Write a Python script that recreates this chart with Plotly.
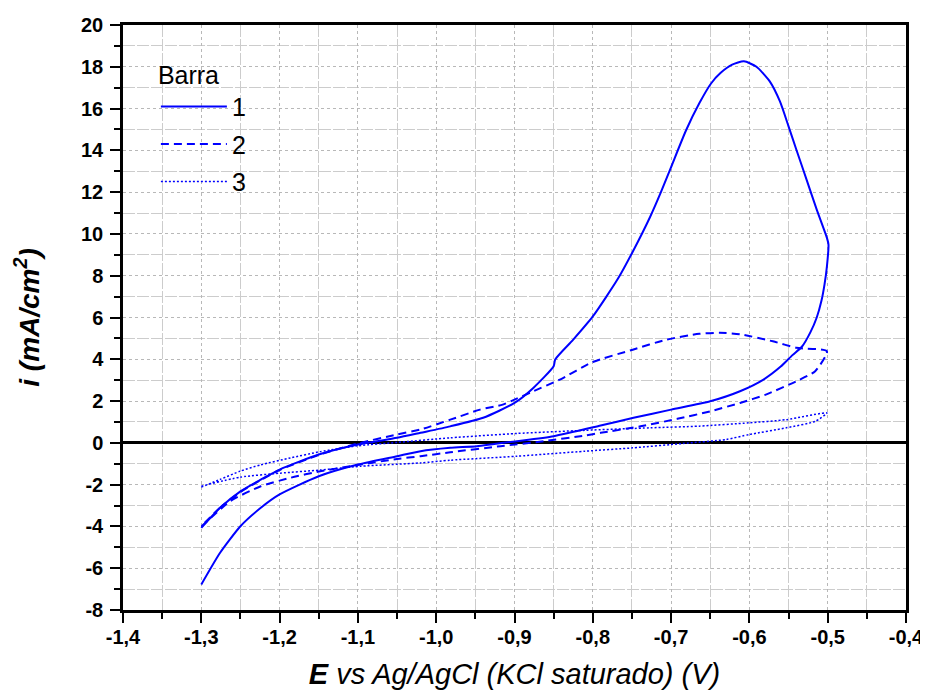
import plotly.graph_objects as go

# ---- data ----
# Barra 1 : forward (anodic) branch then return branch
e1 = [-1.30, -1.276, -1.25, -1.224, -1.20, -1.15, -1.10, -1.05, -1.02, -0.982, -0.94, -0.90,
      -0.876, -0.85, -0.848, -0.825, -0.80, -0.768, -0.749, -0.727, -0.713, -0.70, -0.681,
      -0.664, -0.649, -0.637, -0.622, -0.607, -0.591, -0.574, -0.561, -0.55, -0.54, -0.527,
      -0.514, -0.501, -0.499,
      -0.501, -0.504, -0.508, -0.514, -0.522, -0.533, -0.545, -0.56, -0.582, -0.612, -0.65,
      -0.70, -0.748, -0.79, -0.85, -0.897, -0.948, -0.982, -1.02, -1.05, -1.10, -1.15, -1.20,
      -1.224, -1.25, -1.276, -1.30]
i1 = [-4.07, -3.11, -2.32, -1.76, -1.28, -0.56, -0.08, 0.24, 0.48, 0.79, 1.20, 1.91,
      2.63, 3.67, 3.99, 4.94, 6.05, 7.85, 9.15, 10.8, 12.0, 13.2, 14.95,
      16.25, 17.2, 17.7, 18.1, 18.26, 18.0, 17.3, 16.34, 15.15, 14.03, 12.6,
      11.16, 9.81, 9.49,
      8.45, 7.6, 6.8, 6.0, 5.3, 4.6, 4.2, 3.65, 3.03, 2.47, 1.99,
      1.59, 1.20, 0.83, 0.32, 0.08, -0.16, -0.24, -0.40, -0.64, -1.04, -1.60, -2.47,
      -3.11, -3.99, -5.26, -6.78]

# Barra 2
e2 = [-1.30, -1.276, -1.25, -1.224, -1.20, -1.15, -1.10, -1.05, -1.02, -0.982, -0.944, -0.915,
      -0.90, -0.876, -0.842, -0.80, -0.749, -0.706, -0.664, -0.638, -0.612, -0.57, -0.54, -0.501,
      -0.516, -0.54, -0.579, -0.612, -0.65, -0.692, -0.739, -0.79, -0.81, -0.863, -0.918,
      -0.982, -1.02, -1.05, -1.097, -1.148, -1.186, -1.224, -1.263, -1.30]
i2 = [-4.0, -3.1, -2.35, -1.78, -1.30, -0.58, -0.03, 0.40, 0.64, 1.11, 1.59, 1.83,
      2.07, 2.47, 3.03, 3.87, 4.46, 4.94, 5.22, 5.27, 5.20, 4.86, 4.55, 4.38,
      3.43, 2.95, 2.31, 1.91, 1.51, 1.15, 0.79, 0.48, 0.35, 0.08, -0.16,
      -0.45, -0.64, -0.77, -1.04, -1.36, -1.67, -2.08, -2.79, -4.0]

# Barra 3
e3 = [-1.30, -1.276, -1.25, -1.224, -1.186, -1.148, -1.10, -1.05, -0.982, -0.897, -0.81,
      -0.726, -0.664, -0.60, -0.553, -0.501,
      -0.516, -0.553, -0.60, -0.63, -0.685, -0.749, -0.81, -0.897, -0.982, -1.02, -1.097,
      -1.148, -1.199, -1.25, -1.30]
i3 = [-2.12, -1.75, -1.35, -1.05, -0.72, -0.42, -0.14, 0.02, 0.24, 0.45, 0.60,
      0.72, 0.80, 0.96, 1.11, 1.43,
      1.03, 0.72, 0.40, 0.16, -0.03, -0.24, -0.40, -0.64, -0.83, -0.96, -1.12,
      -1.30, -1.45, -1.64, -2.07]

series_names = ["1", "2", "3"]

x_ticks = [-1.4, -1.3, -1.2, -1.1, -1.0, -0.9, -0.8, -0.7, -0.6, -0.5, -0.4]
x_tick_labels = ["-1,4", "-1,3", "-1,2", "-1,1", "-1,0", "-0,9", "-0,8", "-0,7", "-0,6", "-0,5", "-0,4"]
y_ticks = [-8, -6, -4, -2, 0, 2, 4, 6, 8, 10, 12, 14, 16, 18, 20]
y_tick_labels = ["-8", "-6", "-4", "-2", "0", "2", "4", "6", "8", "10", "12", "14", "16", "18", "20"]

# ---- figure ----
FONT = "Liberation Sans, Arial, sans-serif"
BLUE = "#0000ff"

fig = go.Figure()
fig.add_trace(go.Scatter(x=e1, y=i1, mode="lines", name=series_names[0],
                         line=dict(color=BLUE, width=2, dash="solid", shape="spline", smoothing=0.6),
                         legendgroup="a"))
fig.add_trace(go.Scatter(x=e2, y=i2, mode="lines", name=series_names[1],
                         line=dict(color=BLUE, width=2, dash="8px,5px", shape="spline", smoothing=0.6),
                         legendgroup="b"))
fig.add_trace(go.Scatter(x=e3, y=i3, mode="lines", name=series_names[2],
                         line=dict(color=BLUE, width=1.5, dash="2px,2px", shape="spline", smoothing=0.6),
                         legendgroup="c"))

axis_common = dict(
    automargin=False,
    showline=True, linecolor="black", linewidth=2.5, mirror=True,
    ticks="outside", ticklen=10, tickwidth=2, tickcolor="black",
    tickfont=dict(family=FONT, size=20, color="black", weight="bold"),
    ticklabeloverflow="allow",
    showgrid=True, gridcolor="#b8b8b8", gridwidth=1, griddash="dot",
)

# page body adds an 8px margin, so the figure is sized to fit the 928x698 window
fig.update_layout(
    width=920, height=682,
    margin=dict(l=115, r=22, t=17, b=80),
    paper_bgcolor="white", plot_bgcolor="white",
    font=dict(family=FONT, color="black"),
    showlegend=True,
    legend=dict(
        x=0.042, y=0.955, xanchor="left", yanchor="top",
        bgcolor="rgba(0,0,0,0)", borderwidth=0,
        font=dict(family=FONT, size=25, color="black"),
        title=dict(text="Barra", font=dict(family=FONT, size=25, color="black")),
        itemwidth=66, tracegroupgap=2,
    ),
    xaxis=dict(
        **axis_common,
        range=[-1.4, -0.4], tickmode="array", tickvals=x_ticks, ticktext=x_tick_labels,
        ticklabelstandoff=-3,
        minor=dict(tickmode="linear", tick0=-1.35, dtick=0.1, ticks="outside", ticklen=6,
                   tickwidth=2, tickcolor="black", showgrid=True, gridcolor="#cccccc",
                   gridwidth=1, griddash="12px,2px"),
        zeroline=False,
        title=dict(text="<b>E</b> vs Ag/AgCl (KCl saturado) (V)",
                   font=dict(family=FONT, size=29, color="black", style="italic"),
                   standoff=24),
    ),
    yaxis=dict(
        **axis_common,
        range=[-8, 20], tickmode="array", tickvals=y_ticks, ticktext=y_tick_labels,
        ticklabelstandoff=3,
        minor=dict(tickmode="linear", tick0=-7, dtick=2, ticks="outside", ticklen=6,
                   tickwidth=2, tickcolor="black", showgrid=True, gridcolor="#cccccc",
                   gridwidth=1, griddash="12px,2px"),
        zeroline=True, zerolinecolor="black", zerolinewidth=2.5,
        title=dict(text="i (mA/cm<sup>2</sup>)",
                   font=dict(family=FONT, size=28, color="black", style="italic", weight="bold"),
                   standoff=34),
    ),
)

fig.write_html("out.html")
